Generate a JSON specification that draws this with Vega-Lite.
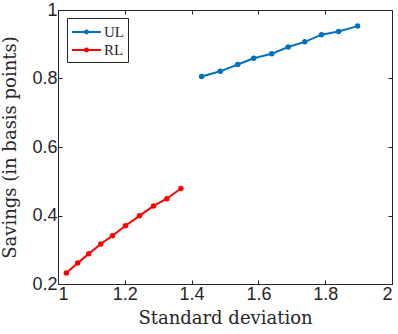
{
  "$schema": "https://vega.github.io/schema/vega-lite/v6.json",
  "width": 334,
  "height": 274,
  "autosize": {"type": "none"},
  "padding": {"left": 58, "top": 10, "right": 6, "bottom": 50},
  "background": "white",
  "config": {
    "view": {"stroke": "#262626", "strokeWidth": 1},
    "axis": {
      "domain": true,
      "domainColor": "#262626",
      "tickColor": "#262626",
      "tickSize": -4,
      "grid": false,
      "labelFont": "Liberation Sans",
      "labelFontSize": 18,
      "labelColor": "#262626",
      "titleFont": "DejaVu Serif",
      "titleFontSize": 18,
      "titleFontWeight": "normal",
      "titleColor": "#262626"
    }
  },
  "data": {
    "values": [
      {"series": "UL", "sd": 1.430, "sav": 0.806},
      {"series": "UL", "sd": 1.486, "sav": 0.821},
      {"series": "UL", "sd": 1.538, "sav": 0.841},
      {"series": "UL", "sd": 1.586, "sav": 0.859},
      {"series": "UL", "sd": 1.640, "sav": 0.872},
      {"series": "UL", "sd": 1.689, "sav": 0.892},
      {"series": "UL", "sd": 1.739, "sav": 0.907},
      {"series": "UL", "sd": 1.789, "sav": 0.928},
      {"series": "UL", "sd": 1.840, "sav": 0.937},
      {"series": "UL", "sd": 1.897, "sav": 0.953},
      {"series": "RL", "sd": 1.025, "sav": 0.232},
      {"series": "RL", "sd": 1.059, "sav": 0.261},
      {"series": "RL", "sd": 1.092, "sav": 0.288},
      {"series": "RL", "sd": 1.128, "sav": 0.317},
      {"series": "RL", "sd": 1.163, "sav": 0.341},
      {"series": "RL", "sd": 1.202, "sav": 0.370},
      {"series": "RL", "sd": 1.244, "sav": 0.399},
      {"series": "RL", "sd": 1.286, "sav": 0.428},
      {"series": "RL", "sd": 1.326, "sav": 0.449},
      {"series": "RL", "sd": 1.368, "sav": 0.479}
    ]
  },
  "layer": [
    {
      "mark": {"type": "line", "strokeWidth": 2, "point": {"size": 30, "filled": true}},
      "encoding": {
        "x": {
          "field": "sd", "type": "quantitative",
          "scale": {"domain": [1, 2], "nice": false, "zero": false},
          "axis": {"values": [1, 1.2, 1.4, 1.6, 1.8, 2], "format": "~g", "labelPadding": 5, "title": "Standard deviation", "titlePadding": 6}
        },
        "y": {
          "field": "sav", "type": "quantitative",
          "scale": {"domain": [0.2, 1], "nice": false, "zero": false},
          "axis": {"values": [0.2, 0.4, 0.6, 0.8, 1], "format": "~g", "labelPadding": 5, "title": "Savings (in basis points)", "titlePadding": 12}
        },
        "color": {
          "field": "series", "type": "nominal",
          "scale": {"domain": ["UL", "RL"], "range": ["#0072BD", "#FF0000"]},
          "legend": {
            "orient": "none",
            "legendX": 9,
            "legendY": 8,
            "title": null,
            "labelFont": "Liberation Serif",
            "labelFontSize": 15,
            "labelColor": "#262626",
            "labelOffset": 13,
            "symbolType": "M-1,0H2.22M0.45,0A0.16,0.16 0 1,1 0.77,0A0.16,0.16 0 1,1 0.45,0Z",
            "symbolSize": 324,
            "symbolStrokeWidth": 2,
            "strokeColor": "#262626",
            "fillColor": "white",
            "padding": 4,
            "rowPadding": -1
          }
        }
      }
    },
    {
      "mark": {"type": "point", "opacity": 0},
      "encoding": {
        "x": {
          "field": "sd", "type": "quantitative",
          "scale": {"domain": [1, 2], "nice": false, "zero": false},
          "axis": {"orient": "top", "values": [1, 1.2, 1.4, 1.6, 1.8, 2], "labels": false, "title": null}
        },
        "y": {
          "field": "sav", "type": "quantitative",
          "scale": {"domain": [0.2, 1], "nice": false, "zero": false},
          "axis": {"orient": "right", "values": [0.2, 0.4, 0.6, 0.8, 1], "labels": false, "title": null}
        }
      }
    }
  ],
  "resolve": {"axis": {"x": "independent", "y": "independent"}}
}
